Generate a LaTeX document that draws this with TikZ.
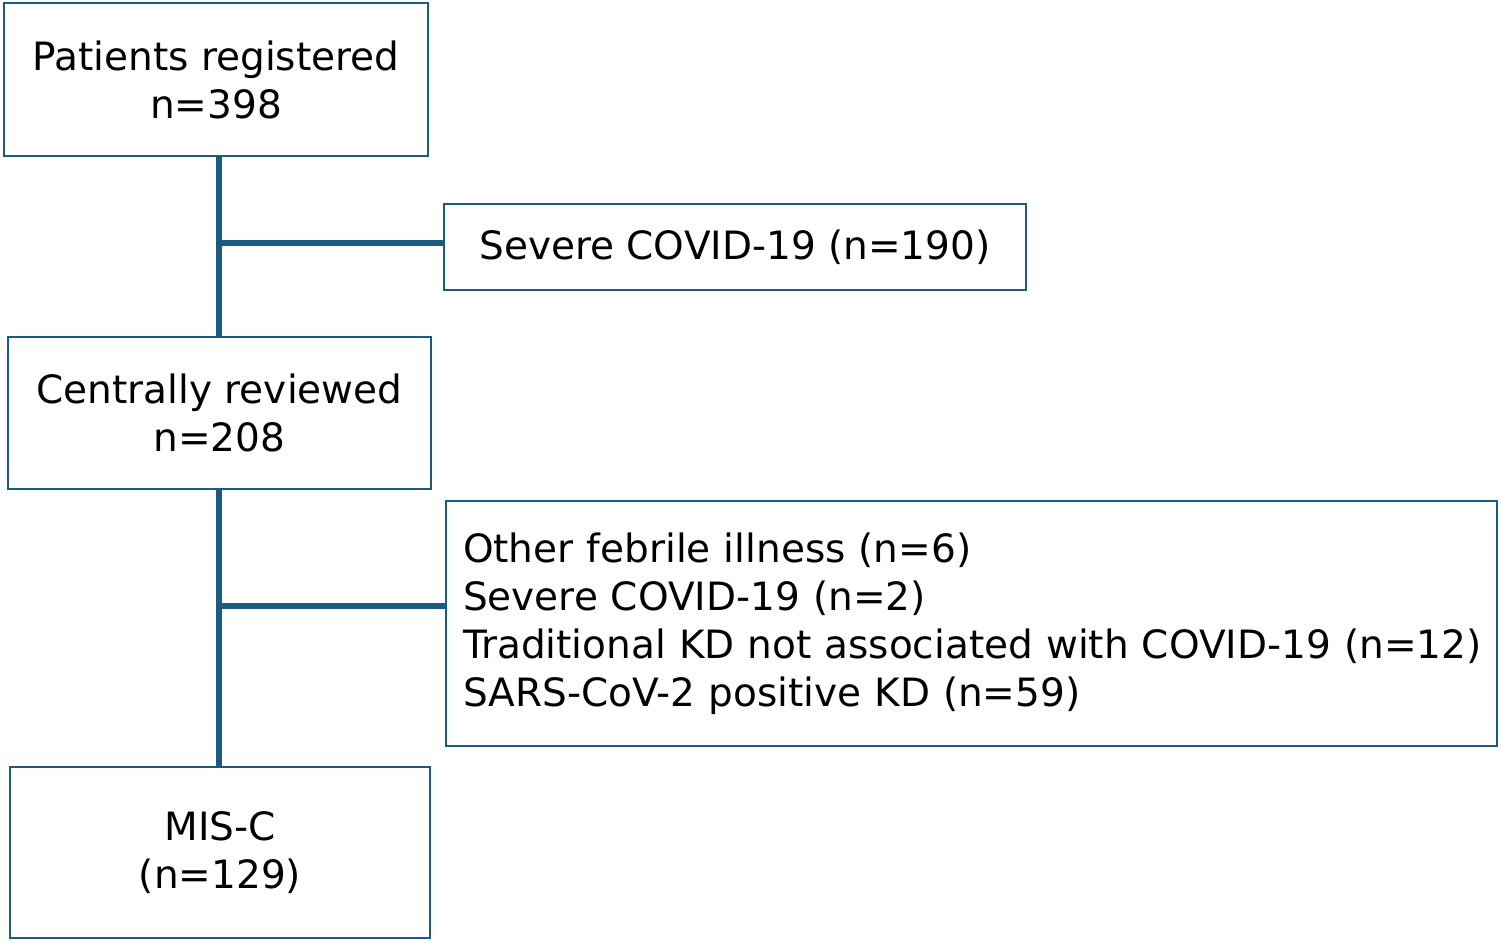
\documentclass[tikz,border=0pt]{standalone}
\usepackage{fontspec}
\setmainfont{DejaVu Sans}
\definecolor{flowblue}{HTML}{1C5A7E}
\begin{document}
\begin{tikzpicture}[x=0.5pt,y=-0.5pt,
  box/.style={draw=flowblue,line width=1.25pt,fill=white,inner sep=0pt,align=center,
    font=\fontsize{19.5}{24}\selectfont},
  link/.style={draw=flowblue,line width=2.6pt}]
\useasboundingbox (0,0) rectangle (1501,943);
\node[box,minimum width=212pt,minimum height=76.5pt] (reg) at (216,79.5) {Patients registered\\n=398};
\node[box,minimum width=291pt,minimum height=43pt] (sev) at (735,247) {\raisebox{-2pt}{Severe COVID-19 (n=190)}};
\node[box,minimum width=211.5pt,minimum height=76pt] (rev) at (219.5,413) {Centrally reviewed\\n=208};
\node[box,minimum width=525.5pt,minimum height=122.5pt,align=left,text width=508.5pt,inner xsep=8.5pt] (exc) at (971.5,623.5)
  {\mbox{Other febrile illness (n=6)}\\\mbox{Severe COVID-19 (n=2)}\\\mbox{Traditional KD not associated with COVID-19 (n=12)}\\\mbox{SARS-CoV-2 positive KD (n=59)}};
\node[box,minimum width=210pt,minimum height=85.5pt] (misc) at (220,852.5) {MIS-C\\(n=129)};
\coordinate (j1) at (219,243);
\coordinate (j2) at (219,606);
\draw[link] (reg.south -| j1) -- (rev.north -| j1);
\draw[link] (rev.south -| j2) -- (misc.north -| j2);
\draw[link] (j1) -- (j1 -| sev.west);
\draw[link] (j2) -- (j2 -| exc.west);
\end{tikzpicture}
\end{document}
